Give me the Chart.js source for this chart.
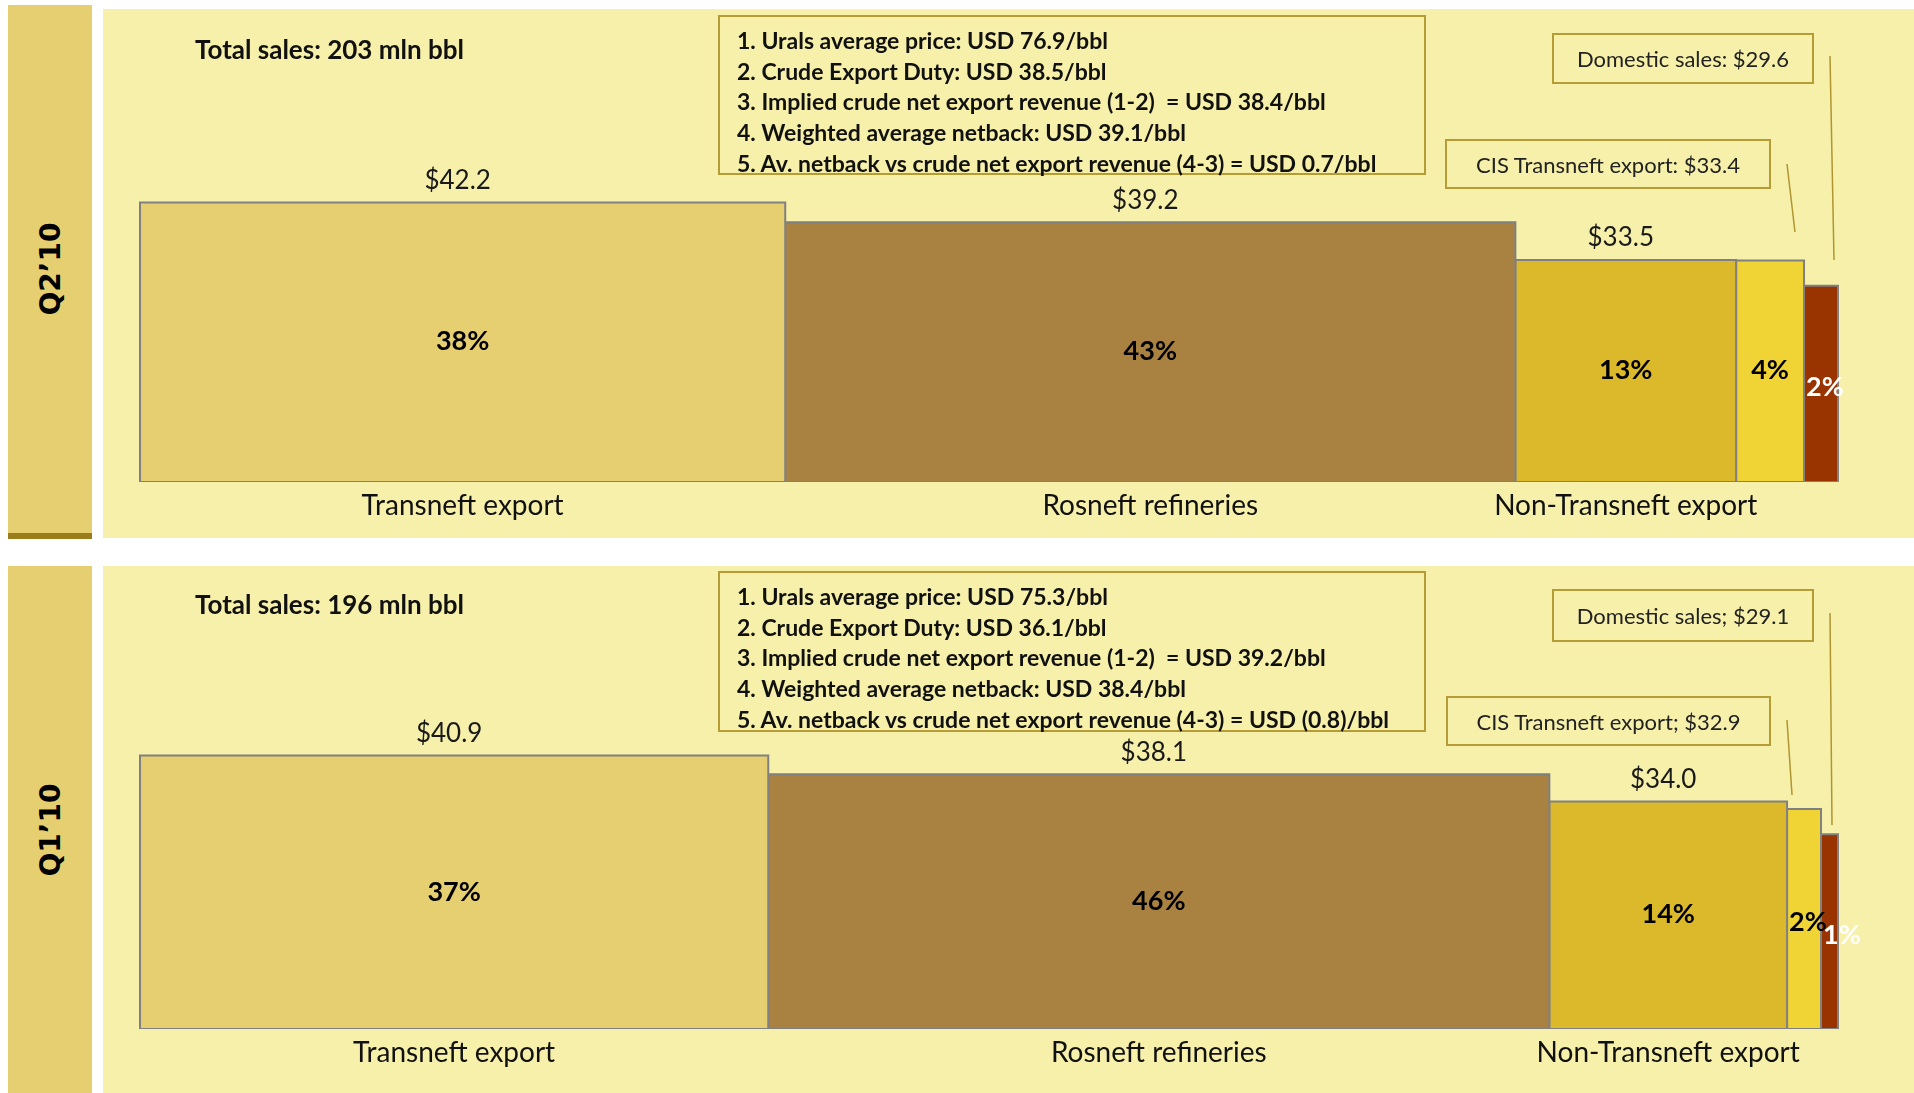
<!DOCTYPE html>
<html lang="en">
<head>
  <meta charset="UTF-8" />
  <title>Crude sales netbacks Q2'10 vs Q1'10</title>
  <script src="https://cdn.jsdelivr.net/npm/chart.js"></script>
  <style>
    body {
      margin: 0;
      width: 1914px;
      height: 1093px;
      overflow: hidden;
      background: #ffffff;
      font-family: Lato, sans-serif;
      position: relative;
    }

    .side {
      position: absolute;
      left: 8px;
      width: 84px;
      background: #e6cf70;
    }

    .side span {
      position: absolute;
      left: 50%;
      top: 50%;
      transform: translate(-50%, -50%) rotate(-90deg);
      font-family: "DejaVu Sans", sans-serif;
      font-weight: bold;
      font-size: 28px;
      color: #000;
      white-space: nowrap;
    }

    #side-q2 { top: 5px; height: 528px; border-bottom: 6px solid #9a7c1a; }
    #side-q1 { top: 566px; height: 527px; }

    .panel {
      position: absolute;
      left: 103px;
      width: 1811px;
      background: #f6f0aa;
    }

    #panel-q2 { top: 9px; height: 529px; }
    #panel-q1 { top: 566px; height: 527px; }

    .panel canvas {
      position: absolute;
      left: 0;
      top: 0;
    }

    .total {
      position: absolute;
      left: 92px;
      font-weight: bold;
      font-size: 26px;
      line-height: 30px;
      color: #111;
    }

    .notes {
      position: absolute;
      left: 615px;
      width: 708px;
      border: 2px solid #b59c35;
      padding: 8px 0 0 17px;
      box-sizing: border-box;
      font-weight: bold;
      font-size: 23px;
      line-height: 30.7px;
      color: #111;
      white-space: pre;
    }

    .callout {
      position: absolute;
      border: 2px solid #b59c35;
      box-sizing: border-box;
      display: flex;
      align-items: center;
      justify-content: center;
      font-size: 22px;
      color: #222;
      white-space: nowrap;
    }

    .panel svg {
      position: absolute;
      left: 0;
      top: 0;
      pointer-events: none;
    }
  </style>
</head>
<body>
  <div class="side" id="side-q2"><span>Q2’10</span></div>
  <div class="side" id="side-q1"><span>Q1’10</span></div>

  <div class="panel" id="panel-q2">
    <canvas id="chartQ2" width="1811" height="529"></canvas>
    <div class="total" style="top: 25px;" id="total-q2"></div>
    <div class="notes" style="top: 6px; height: 160px;" id="notes-q2"></div>
    <div class="callout" style="left: 1449px; top: 24px; width: 262px; height: 51px;" id="dom-q2"></div>
    <div class="callout" style="left: 1342px; top: 130px; width: 326px; height: 50px;" id="cis-q2"></div>
    <svg width="1811" height="529">
      <line x1="1684" y1="155" x2="1692" y2="223" stroke="#b09530" stroke-width="1.5" />
      <line x1="1727" y1="47" x2="1731" y2="251" stroke="#b09530" stroke-width="1.5" />
    </svg>
  </div>

  <div class="panel" id="panel-q1">
    <canvas id="chartQ1" width="1811" height="527"></canvas>
    <div class="total" style="top: 23px;" id="total-q1"></div>
    <div class="notes" style="top: 5px; height: 161px;" id="notes-q1"></div>
    <div class="callout" style="left: 1449px; top: 23px; width: 262px; height: 53px;" id="dom-q1"></div>
    <div class="callout" style="left: 1343px; top: 130px; width: 325px; height: 50px;" id="cis-q1"></div>
    <svg width="1811" height="527">
      <line x1="1684" y1="154" x2="1689" y2="229" stroke="#b09530" stroke-width="1.5" />
      <line x1="1727" y1="47" x2="1729" y2="259" stroke="#b09530" stroke-width="1.5" />
    </svg>
  </div>

  <script>
    // segments, left to right
    const segmentNames = ["Transneft export", "Rosneft refineries", "Non-Transneft export", "CIS Transneft export", "Domestic sales"];
    const categories = ["Transneft export", "Rosneft refineries", "Non-Transneft export"];

    // share of volumes (%) = bar width, netback (USD/bbl) = bar height
    const q2Share = [38, 43, 13, 4, 2];
    const q2Price = [42.2, 39.2, 33.5, 33.4, 29.6];
    const q1Share = [37, 46, 14, 2, 1];
    const q1Price = [40.9, 38.1, 34.0, 32.9, 29.1];

    const q2Total = 203;
    const q1Total = 196;

    const q2Notes = [
      "1. Urals average price: USD 76.9/bbl",
      "2. Crude Export Duty: USD 38.5/bbl",
      "3. Implied crude net export revenue (1-2)  = USD 38.4/bbl",
      "4. Weighted average netback: USD 39.1/bbl",
      "5. Av. netback vs crude net export revenue (4-3) = USD 0.7/bbl"
    ];
    const q1Notes = [
      "1. Urals average price: USD 75.3/bbl",
      "2. Crude Export Duty: USD 36.1/bbl",
      "3. Implied crude net export revenue (1-2)  = USD 39.2/bbl",
      "4. Weighted average netback: USD 38.4/bbl",
      "5. Av. netback vs crude net export revenue (4-3) = USD (0.8)/bbl"
    ];

    const colors = ["#e6cf70", "#a98141", "#dbb92b", "#f0d435", "#993300"];
    const pctColors = ["#000", "#000", "#000", "#000", "#fff"];

    function fillText(id, text) {
      document.getElementById(id).textContent = text;
    }

    fillText("total-q2", "Total sales: " + q2Total + " mln bbl");
    fillText("total-q1", "Total sales: " + q1Total + " mln bbl");
    fillText("notes-q2", q2Notes.join("\n"));
    fillText("notes-q1", q1Notes.join("\n"));
    fillText("dom-q2", segmentNames[4] + ": $" + q2Price[4].toFixed(1));
    fillText("cis-q2", segmentNames[3] + ": $" + q2Price[3].toFixed(1));
    fillText("dom-q1", segmentNames[4] + "; $" + q1Price[4].toFixed(1));
    fillText("cis-q1", segmentNames[3] + "; $" + q1Price[3].toFixed(1));

    // each segment is a step line filled down to zero
    function buildDatasets(shares, prices) {
      let x0 = 0;
      return shares.map((s, i) => {
        const x1 = x0 + s;
        const ds = {
          label: segmentNames[i],
          data: [{ x: x0, y: 0 }, { x: x0, y: prices[i] }, { x: x1, y: prices[i] }, { x: x1, y: 0 }],
          fill: "origin",
          backgroundColor: colors[i],
          borderColor: "#808080",
          borderWidth: 2,
          borderJoinStyle: "miter",
          pointRadius: 0,
          tension: 0,
          clip: false
        };
        x0 = x1;
        return ds;
      });
    }

    function starts(shares) {
      const out = [];
      let acc = 0;
      shares.forEach(s => { out.push(acc); acc += s; });
      return out;
    }

    const segmentLabels = {
      id: "segmentLabels",
      afterDatasetsDraw(chart, args, opts) {
        const { ctx } = chart;
        const xs = chart.scales.x;
        const ys = chart.scales.y;
        const left = starts(opts.shares);
        ctx.save();
        opts.shares.forEach((s, i) => {
          const l = xs.getPixelForValue(left[i]);
          const r = xs.getPixelForValue(left[i] + s);
          const top = ys.getPixelForValue(opts.prices[i]);
          const base = ys.getPixelForValue(0);

          ctx.font = "bold 27px Lato";
          ctx.fillStyle = pctColors[i];
          ctx.textBaseline = "middle";
          const txt = s + "%";
          const w = ctx.measureText(txt).width;
          if (w + 6 > r - l) {
            ctx.textAlign = "left";
            ctx.fillText(txt, l + 2, (top + base) / 2 + 4);
          } else {
            ctx.textAlign = "center";
            ctx.fillText(txt, (l + r) / 2, (top + base) / 2);
          }

          if (i < 3) {
            ctx.font = "26px Lato";
            ctx.fillStyle = "#1a1a1a";
            ctx.textAlign = "center";
            ctx.fillText("$" + opts.prices[i].toFixed(1), (l + r) / 2 - 5, top - 22);
          }
        });
        ctx.restore();
      }
    };

    function makeChart(id, shares, prices, padTop, padBottom) {
      const st = starts(shares);
      const centers = categories.map((c, i) => st[i] + shares[i] / 2);
      return new Chart(document.getElementById(id), {
        type: "line",
        data: { datasets: buildDatasets(shares, prices) },
        options: {
          responsive: false,
          animation: false,
          devicePixelRatio: 1,
          layout: { padding: { top: padTop, left: 37, right: 76, bottom: padBottom } },
          plugins: {
            legend: { display: false },
            tooltip: { enabled: false },
            segmentLabels: { shares: shares, prices: prices }
          },
          scales: {
            x: {
              type: "linear",
              min: 0,
              max: 100,
              bounds: "data",
              z: 1,
              grid: { display: false },
              border: { display: true, color: "#808080", width: 2 },
              afterBuildTicks: axis => { axis.ticks = centers.map(v => ({ value: v })); },
              afterFit: axis => { axis.height = 52; },
              ticks: {
                autoSkip: false,
                maxRotation: 0,
                padding: 0,
                color: "#111",
                font: { family: "Lato", size: 28 },
                callback: (v, i) => categories[i]
              }
            },
            y: {
              display: false,
              min: 0,
              max: 50
            }
          }
        },
        plugins: [segmentLabels]
      });
    }

    makeChart("chartQ2", q2Share, q2Price, 142, 5);
    makeChart("chartQ1", q1Share, q1Price, 129, 13);
  </script>
</body>
</html>
